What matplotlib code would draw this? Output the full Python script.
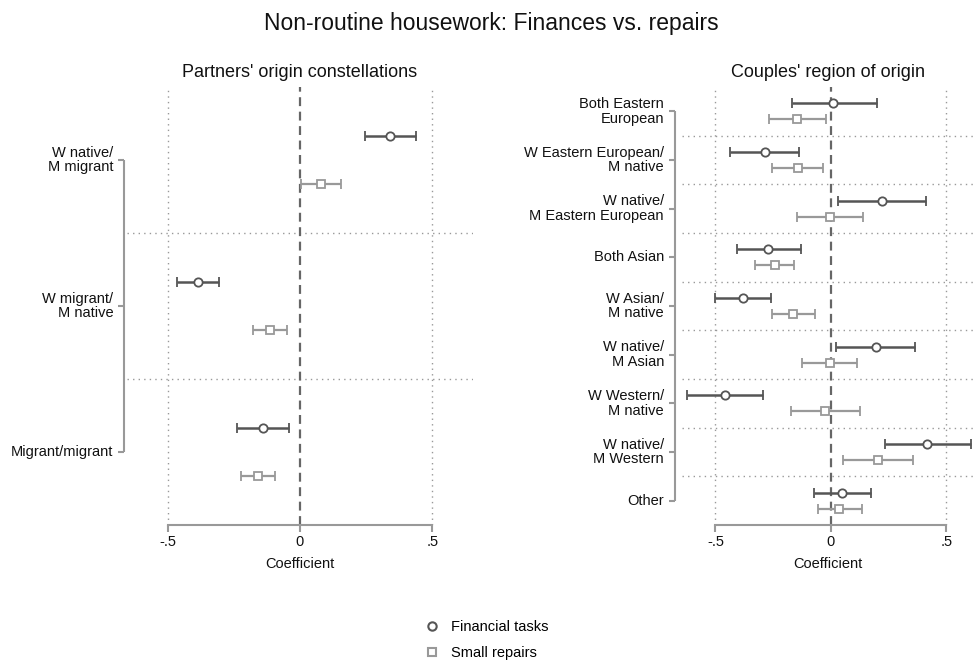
import matplotlib.pyplot as plt
from matplotlib.lines import Line2D
from matplotlib import transforms

plt.rcParams["font.family"] = ["Liberation Sans", "DejaVu Sans"]

# left panel: partners' origin constellations
left_labels = ["W native/\nM migrant", "W migrant/\nM native", "Migrant/migrant"]
left_fin = [0.34, -0.386, -0.14]
left_fin_lo = [0.245, -0.465, -0.236]
left_fin_hi = [0.437, -0.306, -0.043]
left_rep = [0.079, -0.113, -0.16]
left_rep_lo = [0.004, -0.177, -0.224]
left_rep_hi = [0.155, -0.05, -0.093]

# right panel: couples' region of origin
right_labels = [
    "Both Eastern\nEuropean",
    "W Eastern European/\nM native",
    "W native/\nM Eastern European",
    "Both Asian",
    "W Asian/\nM native",
    "W native/\nM Asian",
    "W Western/\nM native",
    "W native/\nM Western",
    "Other",
]
right_fin = [0.01, -0.286, 0.221, -0.273, -0.381, 0.195, -0.459, 0.416, 0.047]
right_fin_lo = [-0.17, -0.437, 0.03, -0.407, -0.502, 0.022, -0.624, 0.234, -0.074]
right_fin_hi = [0.2, -0.139, 0.411, -0.13, -0.26, 0.364, -0.294, 0.606, 0.173]
right_rep = [-0.146, -0.143, -0.003, -0.242, -0.165, -0.003, -0.025, 0.203, 0.035]
right_rep_lo = [-0.268, -0.256, -0.147, -0.327, -0.256, -0.124, -0.172, 0.051, -0.056]
right_rep_hi = [-0.02, -0.035, 0.139, -0.16, -0.069, 0.113, 0.126, 0.355, 0.134]

FIN_COL = "#555555"
REP_COL = "#999999"
GRID_COL = "#999999"


def panel(ax, labels, fin, fin_lo, fin_hi, rep, rep_lo, rep_hi,
          xlim, title, brack_x, tick_x, lab_x):
    n = len(labels)
    ys = list(range(n))
    off = 1 / 6
    ax.set_xlim(*xlim)
    ax.set_ylim(n - 0.5, -0.5)
    for xv in (-0.5, 0.5):
        ax.axvline(xv, color=GRID_COL, lw=1, ls=(0, (1, 3)), zorder=0)
    for k in range(n - 1):
        ax.axhline(k + 0.5, color=GRID_COL, lw=1, ls=(0, (1, 3)), zorder=0)
    ax.axvline(0, color="#666666", lw=1.6, ls=(0, (4, 2.5)), zorder=1)

    yf = [y - off for y in ys]
    yr = [y + off for y in ys]
    ax.errorbar(fin, yf, xerr=[[f - l for f, l in zip(fin, fin_lo)],
                               [h - f for f, h in zip(fin, fin_hi)]],
                fmt="o", color=FIN_COL, mfc="white", mec=FIN_COL, ms=6, mew=1.3,
                elinewidth=1.8, capsize=3.5, capthick=1.5, zorder=3)
    ax.errorbar(rep, yr, xerr=[[r - l for r, l in zip(rep, rep_lo)],
                               [h - r for r, h in zip(rep, rep_hi)]],
                fmt="s", color=REP_COL, mfc="white", mec=REP_COL, ms=6, mew=1.3,
                elinewidth=1.6, capsize=3.5, capthick=1.3, zorder=3)

    for s in ("top", "right", "left"):
        ax.spines[s].set_visible(False)
    ax.spines["bottom"].set_bounds(-0.5, 0.5)
    ax.spines["bottom"].set_color(GRID_COL)
    ax.spines["bottom"].set_linewidth(1.5)
    ax.set_xticks([-0.5, 0, 0.5])
    ax.set_xticklabels(["-.5", "0", ".5"], fontsize=10.5, color="#111111")
    ax.tick_params(axis="x", length=5, width=1.5, color=GRID_COL, pad=2)
    ax.set_yticks([])
    ax.set_xlabel("Coefficient", fontsize=10.5, labelpad=6, color="#111111")
    ax.set_title(title, fontsize=13, pad=7, color="#111111")

    # group bracket on the left side
    tr = transforms.blended_transform_factory(ax.transAxes, ax.transData)
    ax.plot([brack_x, brack_x], [ys[0], ys[-1]], color=GRID_COL, lw=1.5,
            transform=tr, clip_on=False, solid_capstyle="butt")
    for y, lab in zip(ys, labels):
        ax.plot([tick_x, brack_x], [y, y], color=GRID_COL, lw=1.5,
                transform=tr, clip_on=False, solid_capstyle="butt")
        ax.text(lab_x, y, lab, transform=tr, ha="right", va="center",
                fontsize=10.5, color="#111111", linespacing=1.05)


fig = plt.figure(figsize=(9.74, 6.62), dpi=100)
ax1 = fig.add_axes([0.1304, 0.2069, 0.3552, 0.6617])
ax2 = fig.add_axes([0.7002, 0.2069, 0.2998, 0.6617])

panel(ax1, left_labels, left_fin, left_fin_lo, left_fin_hi,
      left_rep, left_rep_lo, left_rep_hi, (-0.653, 0.653),
      "Partners' origin constellations", -0.0087, -0.026, -0.04)
panel(ax2, right_labels, right_fin, right_fin_lo, right_fin_hi,
      right_rep, right_rep_lo, right_rep_hi, (-0.645, 0.62),
      "Couples' region of origin", -0.024, -0.0445, -0.062)

fig.suptitle("Non-routine housework: Finances vs. repairs", fontsize=16.5,
             x=0.504, y=0.982, color="#111111")

handles = [
    Line2D([], [], ls="none", marker="o", mfc="white", mec=FIN_COL, ms=6, mew=1.5),
    Line2D([], [], ls="none", marker="s", mfc="white", mec=REP_COL, ms=6, mew=1.5),
]
fig.legend(handles, ["Financial tasks", "Small repairs"], loc="center",
           bbox_to_anchor=(0.5, 0.033), frameon=False, fontsize=10.5,
           handlelength=1.0, handletextpad=0.8, labelspacing=0.8)

fig.savefig("out.png", dpi=100)
